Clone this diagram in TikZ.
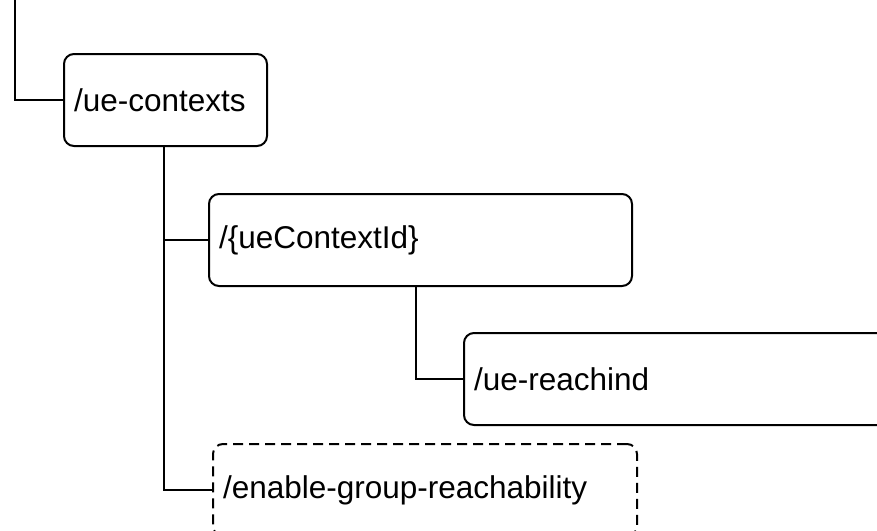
\documentclass[tikz,border=0pt]{standalone}
\usepackage{fontspec}
\setmainfont{Liberation Sans}
\usetikzlibrary{positioning}

\begin{document}
\begin{tikzpicture}[x=1pt, y=-1pt, line width=2pt,
    resbox/.style={rectangle, draw, rounded corners=10pt, minimum height=92pt, inner xsep=10pt, align=left, font=\fontsize{31.5}{36}\selectfont},
    optbox/.style={resbox, dash pattern=on 10pt off 6pt}]
    \clip (0,0) rectangle (877,530);
    \coordinate (top) at (15,0);
    \node[resbox, text width=183pt, anchor=north west] (contexts) at (63,53) {/ue-contexts};
    \node[resbox, text width=403pt, below=46pt of contexts.south west, anchor=north west, xshift=145pt] (ctxid) {/\{ueContextId\}};
    \node[resbox, text width=407pt, below=45pt of ctxid.south west, anchor=north west, xshift=255pt] (reachind) {/ue-reachind};
    \node[optbox, text width=404pt, below=156pt of ctxid.south west, anchor=north west, xshift=4pt] (grpreach) {/enable-group-reachability};
    % tree lines
    \draw (top) |- (contexts.west);
    \draw ([xshift=-2pt]contexts.south) |- (ctxid.west);
    \draw ([xshift=-2pt]contexts.south) |- (grpreach.west);
    \draw ([xshift=-5pt]ctxid.south) |- (reachind.west);
\end{tikzpicture}
\end{document}
